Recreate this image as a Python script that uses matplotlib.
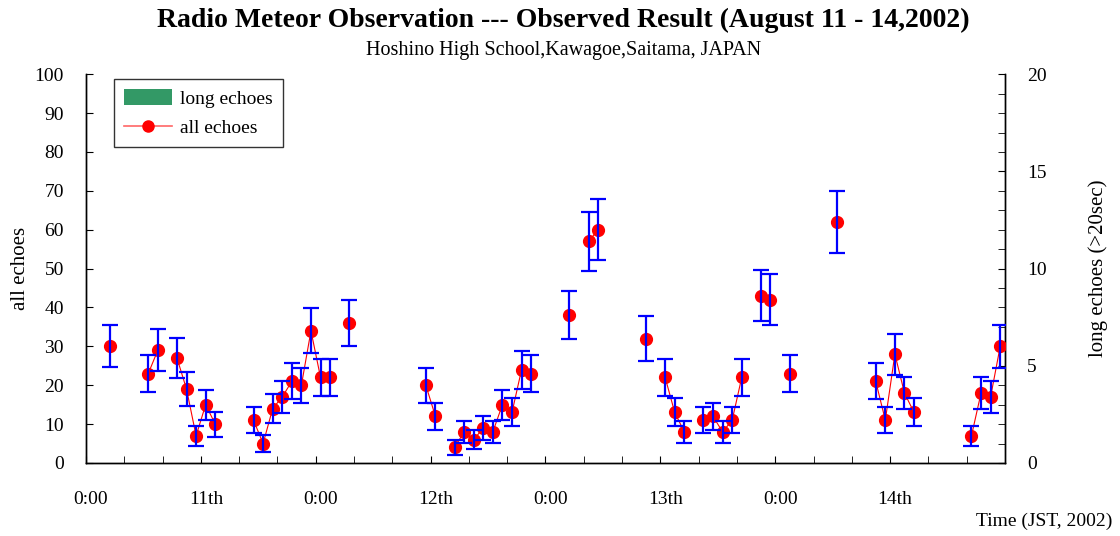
import numpy as np
import matplotlib
matplotlib.use('Agg')
import matplotlib.pyplot as plt
import matplotlib.transforms as mtransforms
from matplotlib.patches import Patch
from matplotlib.lines import Line2D

# hours after Aug 11 0:00 JST (bin centres) with hourly counts
hours = [2.5, 6.5, 7.5, 9.5, 10.5, 11.5, 12.5, 13.5,
         17.5, 18.5, 19.5, 20.5, 21.5, 22.5, 23.5, 24.5, 25.5, 27.5,
         35.5, 36.5, 38.5, 39.5, 40.5, 41.5, 42.5, 43.5, 44.5, 45.5, 46.5,
         50.5, 52.5, 53.5, 58.5, 60.5, 61.5, 62.5, 64.5, 65.5, 66.5, 67.5, 68.5,
         70.5, 71.5, 73.5, 78.5, 82.5, 83.5, 84.5, 85.5, 86.5,
         92.5, 93.5, 94.5, 95.5]
all_echoes = [30, 23, 29, 27, 19, 7, 15, 10,
              11, 5, 14, 17, 21, 20, 34, 22, 22, 36,
              20, 12, 4, 8, 6, 9, 8, 15, 13, 24, 23,
              38, 57, 60, 32, 22, 13, 8, 11, 12, 8, 11, 22,
              43, 42, 23, 62, 21, 11, 28, 18, 13,
              7, 18, 17, 30]
errors = [5.4, 4.8, 5.4, 5.2, 4.4, 2.6, 3.9, 3.2,
          3.3, 2.2, 3.7, 4.1, 4.6, 4.5, 5.8, 4.7, 4.7, 6.0,
          4.5, 3.5, 2.0, 2.8, 2.4, 3.0, 2.8, 3.9, 3.6, 4.9, 4.8,
          6.2, 7.5, 7.8, 5.7, 4.7, 3.6, 2.8, 3.3, 3.5, 2.8, 3.3, 4.7,
          6.6, 6.5, 4.8, 7.9, 4.6, 3.3, 5.3, 4.2, 3.6,
          2.6, 4.2, 4.1, 5.5]
long_echoes = [0] * len(hours)

xtick_labels = ['0:00', '11th', '0:00', '12th', '0:00', '13th', '0:00', '14th']

plt.rcParams['font.family'] = ['Liberation Serif', 'DejaVu Serif']

fig = plt.figure(figsize=(11.2, 5.36), dpi=100)
ax = fig.add_axes([0.0768, 0.1362, 0.8205, 0.7254])
ax2 = ax.twinx()

# long echoes (right axis)
ax2.bar(hours, long_echoes, width=0.8, color='#339966', linewidth=0)

# all echoes: connect only consecutive hours
h = np.array(hours)
v = np.array(all_echoes, dtype=float)
breaks = np.where(np.diff(h) > 1.01)[0] + 1
for hs, vs in zip(np.split(h, breaks), np.split(v, breaks)):
    ax.plot(hs, vs, color='red', linewidth=0.8, zorder=2)
ax.plot(h, v, linestyle='none', marker='o', markersize=8.5,
        color='red', zorder=3)
ax.errorbar(h, v, yerr=errors, fmt='none', ecolor='blue',
            elinewidth=1.6, capsize=6, capthick=1.6, zorder=4)

ax.set_xlim(0, 96)
ax.set_ylim(0, 100)
ax2.set_ylim(0, 20)
ax.set_zorder(ax2.get_zorder() + 1)
ax.patch.set_visible(False)

ax.set_xticks(np.arange(0, 96, 12))
ax.set_xticks(np.arange(0, 97, 4), minor=True)
ax.set_xticklabels(xtick_labels)
ax.set_yticks(np.arange(0, 101, 10))
ax2.set_yticks(np.arange(0, 21, 5))
ax2.set_yticks(np.arange(0, 21, 1), minor=True)

ax.tick_params(axis='x', which='both', direction='in', length=5,
               pad=20, labelsize=14)
ax.tick_params(axis='y', direction='in', length=5, pad=16, labelsize=14)
ax2.tick_params(axis='y', which='both', direction='in', length=5,
                pad=16, labelsize=14)
offset = mtransforms.ScaledTranslation(5 / 100, 0, fig.dpi_scale_trans)
for lab in ax.get_xticklabels():
    lab.set_transform(lab.get_transform() + offset)

for a in (ax, ax2):
    a.spines['top'].set_visible(False)
    for s in a.spines.values():
        s.set_linewidth(1.0)

ax.set_ylabel('all echoes', fontsize=15)
ax.yaxis.set_label_coords(-0.061, 0.5)
ax2.set_ylabel('long echoes (>20sec)', fontsize=15)
ax2.yaxis.set_label_coords(1.091, 0.5)
fig.text(0.993, 0.012, 'Time (JST, 2002)', fontsize=14, ha='right', va='bottom')

fig.text(0.503, 0.962, 'Radio Meteor Observation --- Observed Result (August 11 - 14,2002)',
         fontsize=20, fontweight='bold', ha='center', va='center')
fig.text(0.503, 0.906, 'Hoshino High School,Kawagoe,Saitama, JAPAN',
         fontsize=14.5, ha='center', va='center')

handles = [Patch(facecolor='#339966', edgecolor='none'),
           Line2D([0], [0], color='#ff6666', linewidth=1.2, marker='o',
                  markersize=8, markerfacecolor='red', markeredgecolor='red')]
leg = ax.legend(handles, ['long echoes', 'all echoes'], loc='upper left',
                bbox_to_anchor=(0.0305, 0.987), borderaxespad=0,
                fontsize=14, frameon=True,
                fancybox=False, edgecolor='black', handlelength=2.5,
                handleheight=0.9, borderpad=0.5, labelspacing=0.55,
                handletextpad=0.4)
leg.get_frame().set_linewidth(1.0)

fig.savefig('out.png', dpi=100)
